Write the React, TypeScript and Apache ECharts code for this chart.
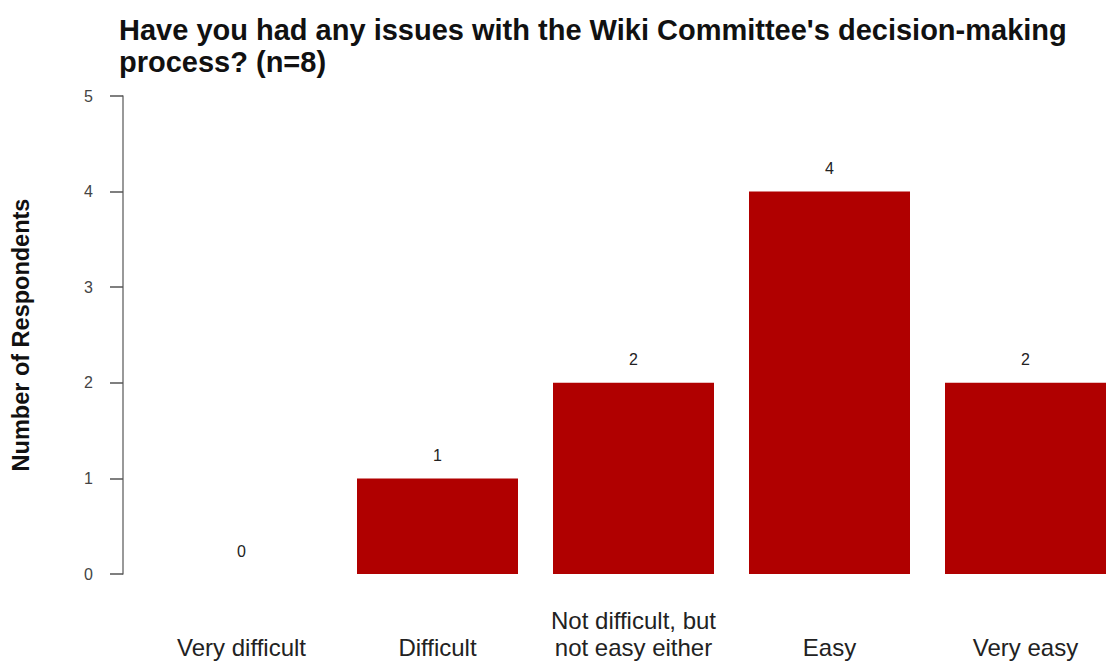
import React, { useEffect, useRef } from "react";
import * as echarts from "echarts";

const categories = [
  "Very difficult",
  "Difficult",
  "Not difficult, but\nnot easy either",
  "Easy",
  "Very easy",
];
const respondents = [0, 1, 2, 4, 2];
const yTicks = [0, 1, 2, 3, 4, 5];
const titleText =
  "Have you had any issues with the Wiki Committee's decision-making\nprocess? (n=8)";
const yName = "Number of Respondents";

const FONT = "'Liberation Sans', Arial, Helvetica, sans-serif";

export default function App() {
  const ref = useRef<HTMLDivElement>(null);
  useEffect(() => {
    if (!ref.current) return;
    const chart = echarts.init(ref.current, undefined, { renderer: "svg" });
    chart.setOption({
      animation: false,
      backgroundColor: "#ffffff",
      title: {
        text: titleText,
        left: 114,
        top: 9,
        textStyle: {
          fontFamily: FONT,
          fontSize: 29,
          fontWeight: "bold",
          color: "#111111",
          lineHeight: 32,
        },
      },
      grid: {
        left: 143.5,
        top: 96,
        right: -17.5,
        bottom: 88,
        containLabel: false,
        outerBoundsMode: "none",
      },
      xAxis: {
        type: "category",
        data: categories,
        axisLine: { show: false },
        axisTick: { show: false },
        axisLabel: {
          interval: 0,
          margin: 87,
          verticalAlign: "bottom",
          lineHeight: 27,
          fontSize: 24,
          fontFamily: FONT,
          color: "#222222",
        },
      },
      yAxis: {
        type: "value",
        min: yTicks[0],
        max: yTicks[yTicks.length - 1],
        interval: 1,
        offset: 20.5,
        name: yName,
        nameLocation: "middle",
        nameRotate: 90,
        nameGap: 90,
        nameTextStyle: {
          fontFamily: FONT,
          fontSize: 23.5,
          fontWeight: "bold",
          color: "#111111",
        },
        axisLine: { show: true, lineStyle: { color: "#777777", width: 1.5 } },
        axisTick: {
          show: true,
          length: 13,
          lineStyle: { color: "#555555", width: 1.5 },
        },
        axisLabel: {
          margin: 30,
          fontSize: 16,
          fontFamily: FONT,
          color: "#444444",
        },
        splitLine: { show: false },
      },
      series: [
        {
          type: "bar",
          data: respondents,
          barWidth: 161,
          itemStyle: { color: "#b00000" },
          label: {
            show: true,
            position: "top",
            distance: 15,
            fontSize: 16,
            fontFamily: FONT,
            color: "#222222",
          },
        },
      ],
    });
    return () => chart.dispose();
  }, []);
  return (
    <div
      ref={ref}
      style={{ position: "absolute", left: 0, top: 0, width: 1106, height: 662 }}
    />
  );
}
